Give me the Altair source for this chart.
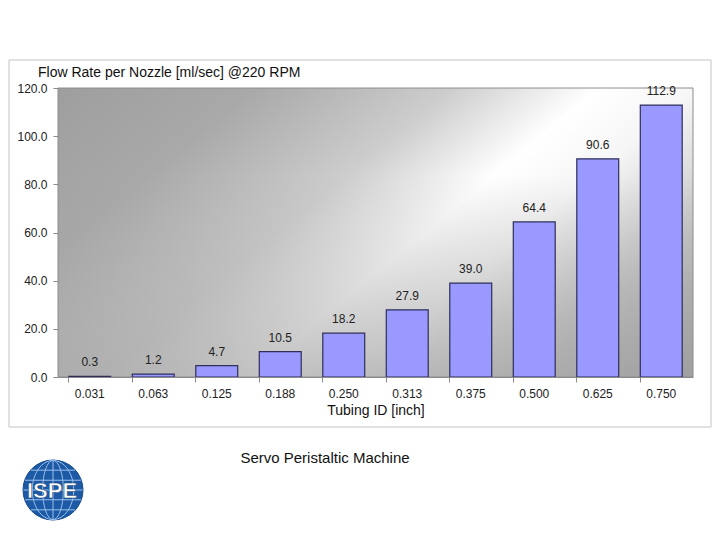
import altair as alt
import pandas as pd

# ---- data ----
tubing_id = ["0.031", "0.063", "0.125", "0.188", "0.250", "0.313", "0.375", "0.500", "0.625", "0.750"]
flow_rate = [0.3, 1.2, 4.7, 10.5, 18.2, 27.9, 39.0, 64.4, 90.6, 112.9]
y_ticks = [0, 20, 40, 60, 80, 100, 120]

chart_title = "Flow Rate per Nozzle [ml/sec] @220 RPM"
x_title = "Tubing ID [inch]"
caption = "Servo Peristaltic Machine"
logo_text = "ISPE"

df = pd.DataFrame({"id": tubing_id, "flow": flow_rate})

W, H = 635, 289
FONT = "Liberation Sans"

xenc = alt.X("id:N", sort=tubing_id, title=x_title,
             scale=alt.Scale(paddingInner=0.34, paddingOuter=0.17),
             axis=alt.Axis(labelAngle=0, bandPosition=0, tickSize=5, labelPadding=6,
                           tickColor="#8a8a8a", domainColor="#8a8a8a", zindex=1,
                           labelFont=FONT, labelFontSize=12, labelColor="#222222",
                           titleFont=FONT, titleFontSize=14, titleFontWeight="normal",
                           titleColor="#111111", titlePadding=4))
yenc = alt.Y("flow:Q", title=None,
             scale=alt.Scale(domain=[0, 120], nice=False),
             axis=alt.Axis(values=y_ticks, format=".1f", grid=False, domain=False,
                           tickSize=5, tickColor="#8a8a8a", labelPadding=6, zindex=1,
                           labelFont=FONT, labelFontSize=12, labelColor="#222222"))

one = alt.Data(values=[{}])

frame = alt.Chart(one).mark_rect(fill="white", fillOpacity=0, stroke="#c4c4c4", strokeWidth=1).encode(
    x=alt.value(-49), x2=alt.value(653), y=alt.value(-28), y2=alt.value(339))

grad = alt.Gradient(
    gradient="linear", x1=0, y1=0, x2=1.19, y2=0.655,
    stops=[alt.GradientStop(offset=0, color="#9e9e9e"),
           alt.GradientStop(offset=0.2, color="#a9a9a9"),
           alt.GradientStop(offset=0.4, color="#cdcdcd"),
           alt.GradientStop(offset=0.55, color="#ffffff"),
           alt.GradientStop(offset=0.65, color="#f6f6f6"),
           alt.GradientStop(offset=0.82, color="#c6c6c6"),
           alt.GradientStop(offset=1, color="#a0a0a0")])
bg = alt.Chart(one).mark_rect(fill=grad).encode(
    x=alt.value(0), x2=alt.value(W), y=alt.value(0), y2=alt.value(H))

shade = alt.Gradient(
    gradient="linear", x1=0, y1=0, x2=0, y2=1,
    stops=[alt.GradientStop(offset=0, color="rgba(158,158,158,0)"),
           alt.GradientStop(offset=0.3, color="rgba(158,158,158,0)"),
           alt.GradientStop(offset=1, color="rgba(160,160,160,0.65)")])
bg2 = alt.Chart(one).mark_rect(fill=shade, stroke="#8c8c8c", strokeWidth=1).encode(
    x=alt.value(0), x2=alt.value(W), y=alt.value(0), y2=alt.value(H))

bars = alt.Chart(df).mark_bar(color="#9999ff", stroke="#2f2f5a", strokeWidth=1.2).encode(
    x=xenc, y=yenc)

labels = alt.Chart(df).mark_text(font=FONT, fontSize=12, color="#222222",
                                 baseline="alphabetic", dy=-10).encode(
    x=alt.X("id:N", sort=tubing_id), y="flow:Q", text=alt.Text("flow:Q", format=".1f"))

title = alt.Chart(one).mark_text(text=chart_title, font=FONT, fontSize=14, color="#111111",
                                 align="left", baseline="middle").encode(
    x=alt.value(-20), y=alt.value(-15))

cap = alt.Chart(one).mark_text(text=caption, font=FONT, fontSize=15, color="#111111",
                               align="center", baseline="middle").encode(
    x=alt.value(267), y=alt.value(370))

globe = alt.Chart(one).mark_point(shape="circle", filled=True, fill="#1c5aa6",
                                  stroke="#164a8c", strokeWidth=1, opacity=1, size=3600).encode(
    x=alt.value(-5), y=alt.value(402))

grid_path = ("M-1,0L1,0M-0.944,-0.33L0.944,-0.33M-0.944,0.33L0.944,0.33"
             "M-0.742,-0.67L0.742,-0.67M-0.742,0.67L0.742,0.67M0,-1L0,1"
             "M0,-1A0.35,1 0 0 0 0,1A0.35,1 0 0 0 0,-1"
             "M0,-1A0.7,1 0 0 0 0,1A0.7,1 0 0 0 0,-1")
globe_grid = alt.Chart(one).mark_point(shape=grid_path, filled=False, stroke="#9cc0ec",
                                       strokeWidth=1, opacity=1, size=3500).encode(
    x=alt.value(-5), y=alt.value(402))

logo = alt.Chart(one).mark_text(text=logo_text, font=FONT,
                                fontSize=22, fontWeight="bold", color="white",
                                stroke="#0d3b73", strokeWidth=0.5,
                                align="center", baseline="middle").encode(
    x=alt.value(-6), y=alt.value(403))

chart = alt.layer(frame, bg, bg2, bars, labels, title, cap, globe, globe_grid, logo).properties(
    width=W, height=H,
    autosize=alt.AutoSizeParams(type="none"),
    padding={"left": 50, "top": 80, "right": 19, "bottom": 155},
    background="white",
).configure_view(stroke=None)

chart.save("out.html", embed_options={"renderer": "svg", "actions": False})
